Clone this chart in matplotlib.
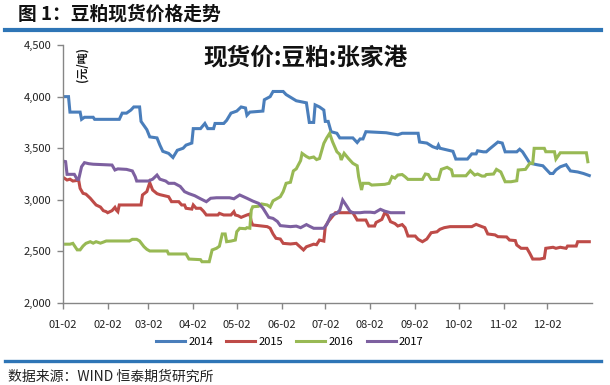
import numpy as np
import matplotlib
matplotlib.use("Agg")
import matplotlib.pyplot as plt
from matplotlib.lines import Line2D
from matplotlib.ticker import FuncFormatter

plt.rcParams['font.family'] = ['Noto Sans CJK SC', 'DejaVu Sans']

# x = days since 01-02
month_ticks = [0, 31, 59, 90, 120, 151, 181, 212, 243, 273, 304, 334]
month_labels = ["01-02", "02-02", "03-02", "04-02", "05-02", "06-02",
                "07-02", "08-02", "09-02", "10-02", "11-02", "12-02"]

days_2014 = [0, 4, 5, 12, 13, 15, 21, 22, 39, 41, 44, 47, 49, 53, 54, 58, 60, 65, 67, 69, 73, 76,
             79, 83, 85, 89, 90, 95, 98, 100, 104, 105, 111, 113, 116, 120, 123, 126, 127, 129, 138,
             139, 143, 145, 152, 154, 161, 168, 170, 173, 174, 177, 180, 181, 183, 185, 189, 191, 200,
             203, 205, 207, 209, 223, 231, 234, 245, 246, 251, 255, 258, 259, 260, 266, 269, 271, 279,
             282, 285, 286, 290, 292, 294, 297, 300, 303, 305, 313, 315, 317, 322, 327, 331, 336, 338,
             340, 343, 347, 350, 355, 359, 363]
vals_2014 = [4000, 4000, 3850, 3850, 3780, 3800, 3800, 3780, 3780, 3840, 3840, 3870, 3900, 3900, 3760,
             3680, 3610, 3600, 3530, 3470, 3450, 3410, 3480, 3500, 3530, 3550, 3690, 3690, 3740, 3690,
             3690, 3740, 3740, 3770, 3840, 3860, 3900, 3890, 3820, 3850, 3860, 3970, 4000, 4050, 4050,
             4020, 3960, 3940, 3750, 3750, 3920, 3900, 3870, 3760, 3760, 3660, 3645, 3600, 3600, 3555,
             3590, 3590, 3660, 3650, 3630, 3645, 3645, 3560, 3550, 3515, 3500, 3530, 3500, 3480, 3470,
             3395, 3395, 3445, 3445, 3475, 3465, 3465, 3490, 3525, 3560, 3550, 3465, 3465, 3490, 3465,
             3355, 3340, 3330, 3255, 3255, 3290, 3320, 3340, 3280, 3270, 3255, 3235]

days_2015 = [0, 3, 5, 7, 11, 12, 14, 16, 19, 21, 23, 26, 28, 30, 31, 34, 36, 37, 38, 39, 54, 55, 58,
             60, 62, 65, 67, 70, 73, 75, 80, 82, 84, 85, 89, 90, 92, 95, 97, 99, 107, 108, 111, 116,
             118, 119, 121, 123, 127, 129, 130, 131, 141, 143, 145, 147, 150, 152, 157, 161, 163, 166,
             168, 173, 175, 177, 180, 181, 183, 188, 200, 203, 209, 211, 215, 216, 220, 222, 224, 226,
             229, 231, 234, 236, 238, 243, 245, 248, 251, 254, 258, 260, 263, 267, 282, 285, 289, 291,
             293, 298, 300, 306, 308, 312, 313, 316, 320, 322, 324, 329, 332, 333, 338, 340, 343, 347,
             348, 354, 355, 363]
vals_2015 = [3220, 3192, 3200, 3182, 3190, 3111, 3063, 3055, 3015, 2982, 2950, 2930, 2895, 2885, 2875,
             2895, 2927, 2900, 2885, 2950, 2950, 3047, 3080, 3166, 3095, 3060, 3050, 3040, 3030, 2982,
             2982, 2950, 2950, 2918, 2910, 2950, 2918, 2918, 2890, 2853, 2853, 2869, 2853, 2853, 2885,
             2853, 2845, 2830, 2853, 2862, 2788, 2756, 2740, 2725, 2669, 2627, 2620, 2578, 2572, 2578,
             2552, 2514, 2545, 2570, 2565, 2610, 2600, 2740, 2788, 2875, 2875, 2804, 2804, 2746, 2746,
             2780, 2810, 2875, 2850, 2788, 2770, 2746, 2760, 2730, 2649, 2649, 2617, 2594, 2620, 2681,
             2690, 2714, 2730, 2740, 2740, 2762, 2740, 2730, 2669, 2660, 2643, 2640, 2610, 2605, 2562,
             2530, 2530, 2481, 2426, 2426, 2435, 2530, 2540, 2530, 2540, 2530, 2552, 2552, 2594, 2594]

days_2016 = [2, 5, 7, 10, 12, 14, 16, 19, 21, 23, 26, 28, 30, 46, 48, 51, 53, 56, 58, 60, 72, 73, 85,
             87, 95, 96, 101, 103, 106, 108, 110, 112, 113, 116, 119, 120, 122, 126, 127, 129, 130, 131,
             135, 137, 141, 143, 145, 150, 152, 154, 157, 159, 161, 164, 165, 168, 170, 173, 175, 177,
             180, 182, 184, 186, 189, 191, 192, 194, 197, 200, 203, 204, 206, 207, 211, 213, 222, 225,
             227, 229, 231, 234, 236, 238, 248, 250, 252, 254, 259, 261, 265, 268, 269, 278, 281, 284,
             286, 289, 291, 292, 297, 299, 302, 305, 309, 313, 314, 319, 322, 324, 325, 332, 333, 339,
             340, 343, 361, 362]
vals_2016 = [2570, 2570, 2578, 2515, 2515, 2552, 2578, 2594, 2580, 2594, 2580, 2590, 2601, 2601, 2617,
             2617, 2601, 2546, 2520, 2504, 2504, 2475, 2475, 2426, 2420, 2400, 2400, 2514, 2530, 2550,
             2669, 2669, 2594, 2600, 2610, 2691, 2724, 2720, 2730, 2725, 2901, 2933, 2937, 2960, 2950,
             2930, 2990, 3030, 3080, 3160, 3170, 3280, 3300, 3380, 3450, 3420, 3405, 3415, 3390, 3400,
             3547, 3600, 3644, 3563, 3466, 3440, 3386, 3451, 3400, 3354, 3330, 3224, 3095, 3160, 3160,
             3143, 3150, 3160, 3224, 3210, 3240, 3245, 3224, 3198, 3198, 3250, 3245, 3198, 3198, 3295,
             3315, 3290, 3233, 3233, 3282, 3240, 3250, 3230, 3230, 3245, 3250, 3295, 3270, 3175, 3175,
             3185, 3289, 3295, 3354, 3354, 3499, 3499, 3466, 3466, 3395, 3456, 3456, 3369]

days_2017 = [0, 2, 3, 8, 10, 11, 13, 15, 18, 21, 34, 36, 38, 44, 48, 50, 51, 59, 62, 65, 67, 71, 73,
             77, 81, 84, 87, 91, 95, 99, 102, 106, 115, 118, 122, 127, 131, 135, 138, 142, 145, 148,
             150, 157, 161, 164, 168, 170, 173, 180, 182, 185, 189, 191, 193, 196, 198, 200, 205, 208,
             212, 215, 219, 222, 226, 235]
vals_2017 = [3376, 3370, 3247, 3247, 3198, 3198, 3321, 3360, 3350, 3345, 3337, 3289, 3300, 3295, 3280,
             3224, 3182, 3182, 3200, 3240, 3200, 3182, 3160, 3160, 3130, 3079, 3060, 3040, 3010, 2982,
             3015, 3020, 3020, 3010, 3047, 3015, 2988, 2966, 2920, 2830, 2820, 2790, 2750, 2740, 2745,
             2730, 2760, 2745, 2724, 2724, 2760, 2850, 2870, 2900, 2998, 2935, 2890, 2875, 2875, 2880,
             2880, 2875, 2908, 2890, 2875, 2875]

series = [("2014", days_2014, vals_2014, "#4A7EBB"),
          ("2015", days_2015, vals_2015, "#BE4B48"),
          ("2016", days_2016, vals_2016, "#98B954"),
          ("2017", days_2017, vals_2017, "#7D60A0")]

fig = plt.figure(figsize=(6.1, 3.85), dpi=100)
ax = fig.add_axes([0.1028, 0.213, 0.868, 0.670])

for name, d, v, c in series:
    ax.plot(d, v, color=c, linewidth=2.2, label=name, solid_joinstyle="miter")

ax.set_xlim(0, 365)
ax.set_ylim(2000, 4500)
ax.set_yticks([2000, 2500, 3000, 3500, 4000, 4500])
ax.yaxis.set_major_formatter(FuncFormatter(lambda y, p: f"{int(y):,}"))
ax.set_xticks(month_ticks)
ax.set_xticklabels(month_labels)

for s in ["top", "right"]:
    ax.spines[s].set_visible(False)
for s in ["left", "bottom"]:
    ax.spines[s].set_color("#868686")
    ax.spines[s].set_linewidth(1.0)
ax.tick_params(axis="both", colors="#868686", labelcolor="#222222", labelsize=8, length=4, width=1)
ax.tick_params(axis="x", pad=8)
ax.tick_params(axis="y", pad=4)

ax.text(0.458, 0.95, "现货价:豆粕:张家港", transform=ax.transAxes, ha="center", va="center",
        fontsize=17, fontweight="bold", color="#111111")
ax.text(0.036, 0.925, "(元/吨)", transform=ax.transAxes, ha="center", va="center",
        rotation=90, fontsize=8, fontweight="bold", color="#111111")

fig.legend(loc="center", bbox_to_anchor=(0.475, 0.1125), ncol=4, frameon=False, fontsize=8,
           handlelength=2.6, columnspacing=1.2, handletextpad=0.3)

# header / footer decoration
fig.text(0.03, 0.963, "图 1：豆粕现货价格走势", fontsize=13.5, fontweight="bold",
         ha="left", va="center", color="#111111")
fig.add_artist(Line2D([0.008, 0.985], [0.922, 0.922], color="#2E75B6", linewidth=3.0))
fig.add_artist(Line2D([0.008, 0.985], [0.062, 0.062], color="#2E75B6", linewidth=2.4))
fig.text(0.013, 0.022, "数据来源：WIND 恒泰期货研究所", fontsize=10, ha="left", va="center",
         color="#222222")

fig.savefig("out.png", dpi=100)
